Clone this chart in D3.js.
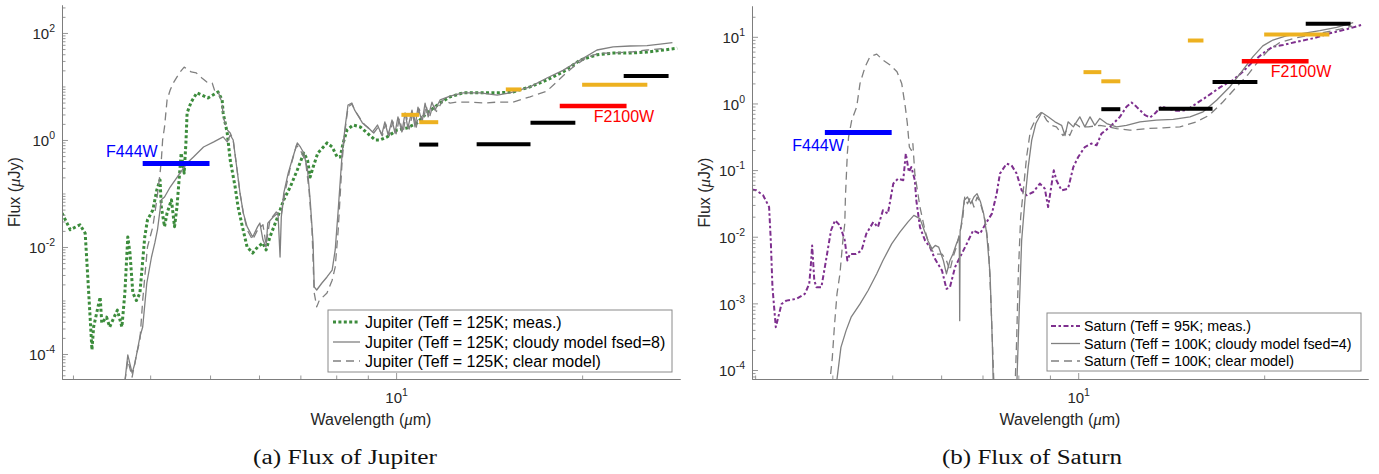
<!DOCTYPE html>
<html><head><meta charset="utf-8">
<script src="https://cdn.jsdelivr.net/npm/d3@7"></script>
<style>body{margin:0;background:#fff}</style>
</head><body>
<script>
// ---------------- DATA (wavelength in µm, flux in µJy) ----------------
const jupiterMeas = [[2.88,0.043],[2.97,0.021],[3.08,0.026],[3.14,0.018],[3.17,0.0028],[3.20,4.3e-4],[3.22,1.2e-4],[3.24,3.2e-4],[3.32,1.16e-3],[3.34,3.8e-4],[3.40,4.9e-4],[3.44,3.2e-4],[3.48,4.3e-4],[3.54,6.6e-4],[3.60,3.2e-4],[3.64,1.38e-3],[3.68,0.0154],[3.71,0.0077],[3.75,1.38e-3],[3.80,1.0e-3],[3.85,1.38e-3],[3.92,0.0154],[3.96,0.032],[4.04,0.049],[4.10,0.116],[4.15,0.179],[4.17,0.056],[4.22,0.024],[4.26,0.043],[4.33,0.076],[4.38,0.024],[4.42,0.056],[4.49,0.57],[4.54,0.24],[4.57,0.88],[4.59,3.2],[4.66,5.1],[4.76,7.6],[4.96,6.1],[5.15,7.9],[5.23,5.6],[5.25,3.2],[5.33,1.35],[5.39,0.42],[5.49,0.132],[5.55,0.056],[5.64,0.024],[5.74,0.010],[5.86,0.0077],[5.97,0.010],[6.09,0.0119],[6.16,0.0088],[6.25,0.0154],[6.43,0.036],[6.58,0.076],[6.74,0.132],[6.92,0.275],[7.09,0.57],[7.19,0.42],[7.26,0.203],[7.34,0.31],[7.47,0.57],[7.73,0.88],[7.88,0.74],[8.03,0.48],[8.12,0.48],[8.21,0.88],[8.33,1.54],[8.52,1.9],[8.75,1.75],[8.98,1.35],[9.25,1.0],[9.42,1.0],[9.67,1.14],[10.04,1.54],[10.42,1.68],[10.81,2.08],[11.22,3.2],[11.78,4.9],[12.23,6.4],[12.83,7.6],[13.68,7.6],[14.57,7.6],[15.46,7.9],[16.47,9.8],[17.54,13.2],[18.62,18.7],[19.85,31],[21.14,39],[22.45,42],[23.92,42],[25.47,44],[27.10,48],[28.5,52]];
const jupiterCloudy = [[3.64,3e-5],[3.68,9.6e-5],[3.74,4.4e-5],[3.78,6.8e-5],[3.85,2.1e-4],[3.89,3.2e-4],[3.95,2.1e-3],[4.02,6.5e-3],[4.07,0.0119],[4.11,0.0208],[4.17,0.076],[4.22,0.086],[4.31,0.132],[4.47,0.24],[4.59,0.37],[4.70,0.48],[4.88,0.74],[5.07,0.92],[5.25,1.14],[5.33,0.92],[5.39,1.24],[5.45,1.0],[5.53,0.275],[5.59,0.102],[5.66,0.043],[5.74,0.024],[5.86,0.0154],[5.97,0.024],[6.02,0.028],[6.09,0.0135],[6.16,0.010],[6.20,0.028],[6.32,0.036],[6.44,0.043],[6.49,0.0065],[6.52,0.036],[6.58,0.102],[6.69,0.24],[6.81,0.48],[6.92,0.88],[7.0,0.74],[7.09,0.57],[7.19,0.275],[7.26,0.076],[7.34,0.0119],[7.37,1.8e-3],[7.44,1.57e-3],[7.58,2.1e-3],[7.73,2.75e-3],[7.88,3.7e-3],[7.97,8.8e-3],[8.06,0.049],[8.18,0.57],[8.27,1.75],[8.36,4.5],[8.48,4.9],[8.57,3.6],[8.67,2.9],[8.82,2.08],[8.99,1.75],[9.16,1.41],[9.33,1.9],[9.48,1.24],[9.59,2.17],[9.71,1.24],[9.85,2.36],[9.96,1.35],[10.07,2.7],[10.22,1.41],[10.34,3.2],[10.45,1.68],[10.61,3.6],[10.73,1.75],[10.85,4.1],[11.02,2.17],[11.14,4.9],[11.27,2.7],[11.43,5.1],[11.56,3.6],[11.78,5.6],[12.23,6.6],[12.83,7.6],[13.68,7.6],[14.57,6.9],[15.28,7.6],[16.47,9.8],[17.54,14.4],[18.62,20],[19.85,31],[21.14,48],[22.45,55],[23.92,57],[25.47,58],[26.74,62],[28.0,66]];
const jupiterClear = [[3.64,3e-5],[3.68,7.7e-5],[3.74,3.7e-5],[3.80,9.6e-5],[3.85,1.8e-4],[3.89,1.0e-3],[3.96,0.010],[4.04,0.024],[4.10,0.076],[4.15,0.24],[4.17,0.42],[4.19,1.0],[4.22,1.75],[4.26,5.6],[4.31,8.6],[4.36,11.6],[4.46,17.9],[4.54,23],[4.66,18.7],[4.75,17.9],[4.85,14.4],[4.94,12.1],[5.04,11.6],[5.10,7.6],[5.16,7.6],[5.23,4.9],[5.25,2.7],[5.33,1.54],[5.39,1.35],[5.45,1.0],[5.53,0.275],[5.59,0.102],[5.66,0.043],[5.74,0.021],[5.86,0.0135],[5.97,0.021],[6.09,0.026],[6.16,0.011],[6.25,0.032],[6.40,0.045],[6.52,0.040],[6.62,0.116],[6.74,0.30],[6.90,0.80],[7.0,0.65],[7.14,0.39],[7.23,0.116],[7.31,0.021],[7.37,1.4e-3],[7.44,7.6e-4],[7.51,1.0e-3],[7.73,1.38e-3],[7.88,2.4e-3],[7.97,4.2e-3],[8.06,0.021],[8.18,0.42],[8.27,1.54],[8.36,4.1],[8.48,4.7],[8.60,3.4],[8.75,2.5],[8.90,1.9],[9.05,1.6],[9.20,1.35],[9.36,1.75],[9.50,1.2],[9.62,2.0],[9.75,1.2],[9.88,2.2],[10.0,1.3],[10.12,2.5],[10.26,1.35],[10.38,3.0],[10.50,1.6],[10.65,3.4],[10.78,1.7],[10.9,3.8],[11.06,2.1],[11.18,4.4],[11.32,2.6],[11.48,4.6],[11.62,3.4],[11.92,5.6],[12.23,4.9],[12.55,5.1],[13.17,5.1],[13.84,4.9],[14.57,5.1],[15.46,5.1],[16.47,6.4],[17.54,8.2],[18.62,15.7],[19.34,23],[20.35,35],[21.38,42],[22.45,42],[23.92,44],[25.47,48],[27.45,52]];

const saturnMeas = [[2.962,0.051],[3.01,0.050],[3.09,0.042],[3.16,0.028],[3.18,0.0088],[3.20,1.75e-3],[3.22,8.7e-4],[3.24,4.4e-4],[3.27,6.2e-4],[3.31,9.8e-4],[3.37,1.1e-3],[3.50,1.17e-3],[3.61,1.39e-3],[3.67,1.96e-3],[3.69,3.5e-3],[3.71,7.4e-3],[3.74,2.2e-3],[3.77,1.75e-3],[3.84,1.75e-3],[3.89,3.5e-3],[3.98,0.0124],[4.04,0.0176],[4.115,0.0148],[4.19,0.0088],[4.23,0.0044],[4.27,0.0055],[4.37,0.0055],[4.46,0.0062],[4.54,0.0111],[4.66,0.0166],[4.74,0.0139],[4.83,0.0249],[4.92,0.0222],[5.02,0.0627],[5.11,0.0745],[5.21,0.0703],[5.26,0.177],[5.32,0.0936],[5.37,0.111],[5.44,0.0703],[5.47,0.0352],[5.545,0.0139],[5.65,0.0088],[5.755,0.0070],[5.86,0.0047],[6.02,0.0031],[6.12,1.65e-3],[6.20,1.75e-3],[6.32,3.5e-3],[6.435,4.9e-3],[6.60,7.8e-3],[6.76,0.0124],[6.935,0.0111],[7.11,0.0166],[7.25,0.0222],[7.38,0.0443],[7.47,0.0886],[7.66,0.125],[7.80,0.118],[7.95,0.0886],[8.10,0.0497],[8.25,0.0418],[8.46,0.0469],[8.67,0.0627],[8.83,0.0527],[8.94,0.0279],[9.06,0.0627],[9.13,0.0993],[9.22,0.0703],[9.40,0.0497],[9.63,0.0527],[9.82,0.111],[10.0,0.157],[10.25,0.222],[10.5,0.25],[10.71,0.236],[10.91,0.354],[11.26,0.445],[11.68,0.629],[11.97,0.889],[12.2,1.035],[12.43,0.889],[12.83,0.667],[13.07,0.616],[13.31,0.708],[13.65,0.911],[13.91,0.841],[14.44,0.774],[14.98,0.793],[15.54,1.0],[16.14,1.26],[16.96,1.74],[17.8,2.24],[18.47,2.99],[19.17,4.22],[19.9,5.65],[20.66,7.1],[21.45,7.53],[22.58,8.44],[24.0,9.49],[25.55,11.3],[27.2,13.0],[28.7,15.0]];
const saturnCloudy = [[4.07,7.3e-5],[4.13,2.19e-4],[4.21,3.9e-4],[4.29,6.2e-4],[4.435,9.8e-4],[4.57,1.56e-3],[4.72,2.78e-3],[4.83,4.4e-3],[4.99,7.8e-3],[5.145,0.0117],[5.30,0.0166],[5.42,0.0209],[5.545,0.0187],[5.61,0.0139],[5.71,0.0088],[5.80,0.0066],[5.87,0.0074],[5.945,0.0070],[6.05,0.0044],[6.12,0.00278],[6.20,0.0044],[6.27,0.0055],[6.35,0.0078],[6.42,0.010],[6.43,5.5e-4],[6.44,0.012],[6.46,0.0139],[6.54,0.0352],[6.62,0.0394],[6.70,0.0313],[6.78,0.0394],[6.86,0.0443],[6.95,0.0331],[7.03,0.0222],[7.11,0.0111],[7.20,0.00278],[7.26,2.76e-4],[7.29,5e-5],[7.95,5e-5],[8.03,8.7e-4],[8.10,0.0088],[8.20,0.0352],[8.30,0.111],[8.41,0.281],[8.54,0.5],[8.73,0.73],[8.94,0.63],[9.17,0.53],[9.40,0.47],[9.52,0.33],[9.63,0.53],[9.82,0.445],[10.06,0.63],[10.25,0.445],[10.45,0.63],[10.64,0.47],[10.84,0.595],[11.12,0.5],[11.54,0.445],[11.97,0.47],[12.59,0.53],[13.38,0.561],[14.25,0.575],[15.17,0.63],[15.93,0.748],[16.75,1.12],[17.60,1.78],[18.47,3.17],[19.17,5.0],[19.9,7.3],[20.66,8.95],[21.71,10.3],[23.13,11.3],[24.61,12.4],[26.2,13.9],[27.87,16.3]];
const saturnClear = [[3.975,8.7e-5],[4.0,1.55e-4],[4.03,4.4e-4],[4.07,1.39e-3],[4.115,2.78e-3],[4.16,0.0088],[4.19,0.0157],[4.20,0.0394],[4.23,0.177],[4.25,0.315],[4.30,0.561],[4.34,0.708],[4.38,0.889],[4.435,2.0],[4.52,3.55],[4.60,5.0],[4.72,5.5],[4.83,4.48],[4.96,3.77],[5.09,2.99],[5.18,2.0],[5.25,0.889],[5.29,0.5],[5.33,0.222],[5.37,0.198],[5.40,0.25],[5.44,0.0886],[5.545,0.0279],[5.65,0.0124],[5.755,0.0070],[5.86,0.0055],[6.02,0.0055],[6.12,0.0044],[6.20,0.0031],[6.27,0.0049],[6.35,0.0070],[6.50,0.0176],[6.55,0.0394],[6.62,0.0313],[6.70,0.0394],[6.78,0.0279],[6.86,0.0394],[6.95,0.0313],[7.07,0.0176],[7.16,0.0070],[7.23,8.7e-4],[7.31,5e-5],[7.90,5e-5],[7.95,2.76e-4],[8.0,0.00278],[8.07,0.0197],[8.15,0.0497],[8.25,0.157],[8.37,0.397],[8.57,0.63],[8.73,0.748],[8.89,0.561],[9.06,0.47],[9.22,0.445],[9.45,0.33],[9.58,0.397],[9.69,0.33],[9.88,0.5],[10.06,0.445],[10.38,0.445],[10.84,0.47],[11.54,0.42],[12.12,0.397],[12.91,0.42],[13.74,0.43],[14.61,0.445],[15.54,0.53],[16.3,0.667],[17.16,1.06],[18.05,1.78],[18.8,2.67],[19.54,4.22],[20.33,6.33],[21.17,8.15],[22.35,9.49],[23.42,10.3],[24.87,11.5],[26.52,13.0],[27.77,14.5]];

// filter bands: [start µm, end µm, flux µJy]
const orangeBands = [[10.2,10.9,2.95],[10.9,11.7,2.15],[15.05,15.95,8.8],[20.0,25.5,10.8]];
const blackBands  = [[10.9,11.7,0.82],[13.5,16.5,0.83],[16.5,19.5,2.1],[23.35,27.6,15.7]];
const redBands    = [[18.4,23.6,4.3]];
const blueBands   = [[3.89,4.99,0.365]];
const bandLabels  = {blue:"F444W", red:"F2100W"};

const jupiterLegend = ["Jupiter (Teff = 125K; meas.)","Jupiter (Teff = 125K; cloudy model fsed=8)","Jupiter (Teff = 125K; clear model)"];
const saturnLegend  = ["Saturn (Teff = 95K; meas.)","Saturn (Teff = 100K; cloudy model fsed=4)","Saturn (Teff = 100K; clear model)"];
const captions = ["(a) Flux of Jupiter","(b) Flux of Saturn"];
const leftYTicks = [1e-4,1e-2,1,100];
const rightYTicks = [1e-4,1e-3,1e-2,1e-1,1,10];
const xMajorTicks = [10];

// ---------------- DRAWING ----------------
const SANS = '"Liberation Sans", Arial, Helvetica, sans-serif';
const SERIF = '"Liberation Serif", "Times New Roman", serif';
const svg = d3.select("body").append("svg").attr("width",1379).attr("height",474)
  .style("font-family",SANS);
const AX = "#7d7d7d", GRAY = "#808080", GREEN = "#3c8c3c", PURPLE = "#7E2F8E", TXT = "#262626";

function drawPanel(o){
  const x = d3.scaleLog().domain(o.xDomain).range([o.left,o.right]);
  const y = d3.scaleLog().domain(o.yDomain).range([o.bottom,o.top]);
  const g = svg.append("g");
  svg.append("clipPath").attr("id","clip"+o.id).append("rect")
    .attr("x",o.left).attr("y",o.top).attr("width",o.right-o.left).attr("height",o.bottom-o.top);
  const plot = g.append("g").attr("clip-path",`url(#clip${o.id})`);
  const line = d3.line().x(d=>x(d[0])).y(d=>y(d[1]));

  o.series.forEach(s=>{
    plot.append("path").attr("d",line(s.data)).attr("fill","none")
      .attr("stroke",s.color).attr("stroke-width",s.width)
      .attr("stroke-dasharray",s.dash||null).attr("stroke-linejoin","round");
  });

  const bandSets = [[orangeBands,"#EDB120",4],[blackBands,"#000",4],[redBands,"#FF0000",4.5],[blueBands,"#0000FF",5]];
  bandSets.forEach(([arr,col,w])=>{
    plot.selectAll(null).data(arr).enter().append("line")
      .attr("x1",d=>x(d[0])).attr("x2",d=>x(d[1]))
      .attr("y1",d=>y(d[2])).attr("y2",d=>y(d[2]))
      .attr("stroke",col).attr("stroke-width",w);
  });
  const b = blueBands[0], r = redBands[0];
  g.append("text").attr("x",x(b[0])+o.blueLab[0]).attr("y",y(b[2])+o.blueLab[1])
    .attr("text-anchor","end").attr("fill","#0000FF").attr("font-size",16).text(bandLabels.blue);
  g.append("text").attr("x",x(r[0])+o.redLab[0]).attr("y",y(r[2])+o.redLab[1])
    .attr("fill","#FF0000").attr("font-size",16).text(bandLabels.red);

  // y axis
  const yMinor = [];
  for(let k=-6;k<=3;k++) for(let m=1;m<=9;m++){const v=m*Math.pow(10,k); if(v>=o.yDomain[0]&&v<=o.yDomain[1]&&!o.yTicks.some(t=>Math.abs(t-v)/v<1e-6)) yMinor.push(v);}
  const yAxMinor = g.append("g").attr("transform",`translate(${o.left},0)`)
    .call(d3.axisLeft(y).tickValues(yMinor).tickSize(-3.5).tickSizeOuter(0).tickFormat(()=>""));
  const yAx = g.append("g").attr("transform",`translate(${o.left},0)`)
    .call(d3.axisLeft(y).tickValues(o.yTicks).tickSize(-6).tickSizeOuter(0).tickPadding(7).tickFormat(()=>""));
  yAx.selectAll(".tick text").each(function(d){
    const t=d3.select(this).attr("font-size",15).attr("dy","0.38em");
    t.append("tspan").text("10");
    t.append("tspan").attr("dy",-7).attr("font-size",10.5).text(String(Math.round(Math.log10(d))));
  });
  // x axis
  const xMinor = [3,4,5,6,7,8,9,20].filter(v=>v>=o.xDomain[0]&&v<=o.xDomain[1]);
  const xAxMinor = g.append("g").attr("transform",`translate(0,${o.bottom})`)
    .call(d3.axisBottom(x).tickValues(xMinor).tickSize(-3.5).tickSizeOuter(0).tickFormat(()=>""));
  const xAx = g.append("g").attr("transform",`translate(0,${o.bottom})`)
    .call(d3.axisBottom(x).tickValues(xMajorTicks).tickSize(-6).tickSizeOuter(0).tickPadding(13).tickFormat(()=>""));
  xAx.selectAll(".tick text").each(function(d){
    const t=d3.select(this).attr("font-size",15);
    t.append("tspan").text("10");
    t.append("tspan").attr("dy",-7).attr("font-size",10.5).text(String(Math.round(Math.log10(d))));
  });
  [yAxMinor,yAx,xAxMinor,xAx].forEach(a=>{
    a.attr("font-family",null);
    a.selectAll("path.domain").attr("stroke",AX).attr("stroke-width",1);
    a.selectAll(".tick line").attr("stroke",AX).attr("stroke-width",0.8);
    a.selectAll(".tick text").attr("fill",TXT);
  });

  // axis titles
  const xt = g.append("text").attr("x",(o.left+o.right)/2).attr("y",425).attr("text-anchor","middle").attr("font-size",16).attr("fill",TXT);
  xt.append("tspan").text("Wavelength (");
  xt.append("tspan").style("font-family",SERIF).style("font-style","italic").attr("font-size",17).text("μ");
  xt.append("tspan").text("m)");
  const yt = g.append("text").attr("transform",`translate(${o.yTitleX},${(o.top+o.bottom)/2}) rotate(-90)`).attr("text-anchor","middle").attr("font-size",16).attr("fill",TXT);
  yt.append("tspan").text("Flux (");
  yt.append("tspan").style("font-family",SERIF).style("font-style","italic").attr("font-size",17).text("μ");
  yt.append("tspan").text("Jy)");

  // legend
  const L = o.legend;
  g.append("rect").attr("x",L.x).attr("y",L.y).attr("width",L.w).attr("height",L.h)
    .attr("fill","#fff").attr("stroke","#8a8a8a").attr("stroke-width",1);
  o.series.forEach((s,i)=>{
    const yy = L.rows[i];
    g.append("line").attr("x1",L.lx0).attr("x2",L.lx1).attr("y1",yy).attr("y2",yy)
      .attr("stroke",s.color).attr("stroke-width",s.width).attr("stroke-dasharray",s.dash||null);
    g.append("text").attr("x",L.tx).attr("y",yy).attr("dy","0.35em").attr("font-size",L.fs).attr("fill","#000").text(o.labels[i]);
  });

  // caption
  svg.append("text").attr("x",o.capX).attr("y",464).attr("text-anchor","middle")
    .style("font-family",SERIF).attr("fill","#111")
    .attr("font-size",20).attr("textLength",o.capW).attr("lengthAdjust","spacingAndGlyphs").text(o.caption);
}

drawPanel({
  id:"a", left:62, right:680, top:5, bottom:379,
  xDomain:[2.88,28.8], yDomain:[3.41e-5,333], yTicks:leftYTicks, yTitleX:20,
  series:[
    {data:jupiterMeas,color:GREEN,width:3,dash:"3,2.4"},
    {data:jupiterCloudy,color:GRAY,width:1.3},
    {data:jupiterClear,color:GRAY,width:1.3,dash:"8,5"}
  ],
  labels:jupiterLegend,
  legend:{x:328,y:310,w:344,h:62,rows:[322,342,361],lx0:333,lx1:360,tx:365,fs:16},
  blueLab:[15,-6], redLab:[34,16],
  caption:captions[0], capX:345, capW:184
});
drawPanel({
  id:"b", left:752, right:1368, top:6, bottom:379,
  xDomain:[2.965,29.45], yDomain:[7.33e-5,29.0], yTicks:rightYTicks, yTitleX:710,
  series:[
    {data:saturnMeas,color:PURPLE,width:2,dash:"5,2.5,2.5,2.5"},
    {data:saturnCloudy,color:GRAY,width:1.3},
    {data:saturnClear,color:GRAY,width:1.3,dash:"8,5"}
  ],
  labels:saturnLegend,
  legend:{x:1047,y:313,w:314,h:58,rows:[326,343.5,361],lx0:1051,lx1:1080,tx:1084,fs:14.3},
  blueLab:[19,18], redLab:[29,16],
  caption:captions[1], capX:1032, capW:180
});
</script>
</body></html>
